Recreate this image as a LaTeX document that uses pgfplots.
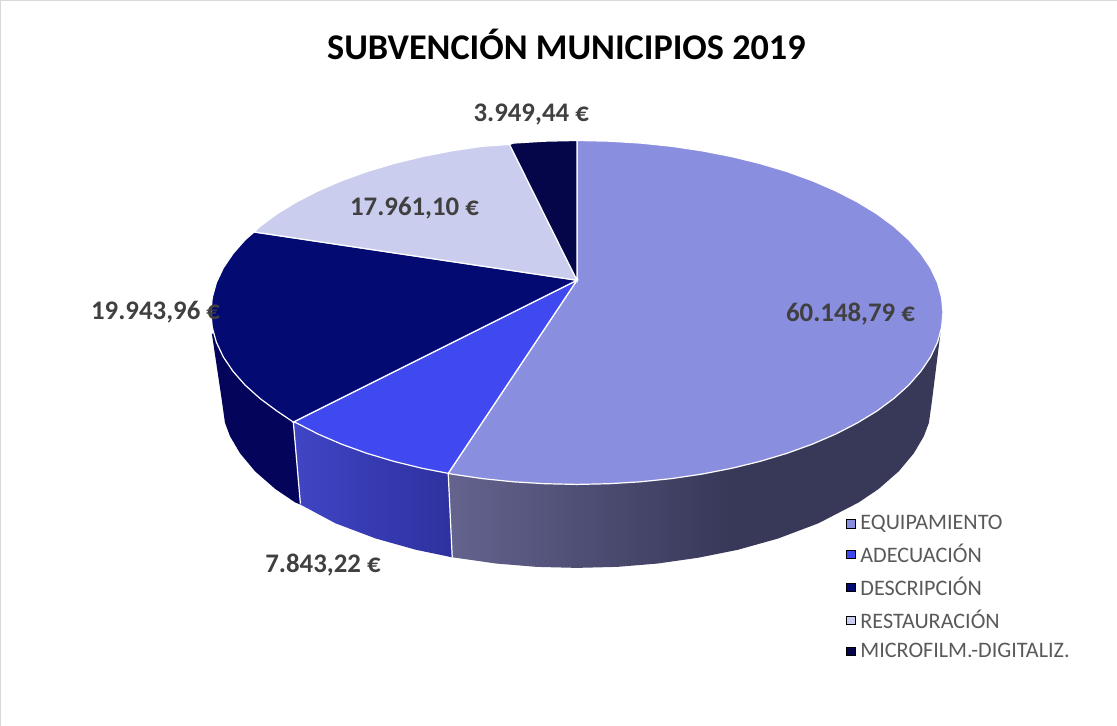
\documentclass[border=0pt]{standalone}
\usepackage{pgfplots}
\pgfplotsset{compat=1.18}
\usepackage{fontspec}
\setmainfont{Carlito}
\definecolor{cEq}{HTML}{8A8EDF}
\definecolor{cAd}{HTML}{4049F0}
\definecolor{cDe}{HTML}{030A72}
\definecolor{cRe}{HTML}{CBCDEE}
\definecolor{cMi}{HTML}{05064A}
\definecolor{cDeS}{HTML}{03045A}
\definecolor{cLab}{HTML}{404040}
\definecolor{cLeg}{HTML}{595959}
\definecolor{cBox}{HTML}{D9D9D9}
\pgfdeclarehorizontalshading{eqside}{100bp}{rgb(0bp)=(0.39,0.39,0.56); rgb(25bp)=(0.39,0.39,0.56); rgb(53.35bp)=(0.22,0.22,0.35); rgb(100bp)=(0.22,0.22,0.35)}
\pgfdeclarehorizontalshading{adside}{100bp}{rgb(0bp)=(0.25,0.27,0.77); rgb(25bp)=(0.25,0.27,0.77); rgb(75bp)=(0.18,0.19,0.62); rgb(100bp)=(0.18,0.19,0.62)}
\begin{document}
\begin{tikzpicture}
\begin{axis}[
  at={(0,0)}, anchor=south west,
  scale only axis, width=837.75pt, height=551.25pt,
  xmin=0, xmax=1117, ymin=0, ymax=735, y dir=reverse,
  axis lines=none, clip=true,
  legend cell align=left,
  legend image code/.code={\fill[#1] (0pt,-3pt) rectangle (6pt,3pt);},
  legend style={at={(axis cs:848,526)}, anchor=north west, draw=none, fill=none,
    inner sep=0pt, outer sep=0pt, font=\fontsize{16.5pt}{18pt}\selectfont\color{cLeg},
    row sep=9.3pt, nodes={inner xsep=4pt, inner ysep=0pt}},
]
% chart frame
\addplot[cBox, line width=1pt, forget plot] coordinates {(7,735) (7,14) (1117,14)};
% side faces
\addplot[fill=cDeS, draw=none, forget plot] coordinates {(298,433) (305,515) (300,513) (280,499.5) (260,482) (245,464) (235,447) (230,433.6) (227,412) (217,345) (300,345)} --cycle;
\addplot[shading=adside, draw=none, forget plot] coordinates {(298,433) (305,515) (340,533.7) (380,548.8) (420,560) (456,567.5) (452,484) (380,440)} --cycle;
\addplot[shading=eqside, draw=none, forget plot] coordinates {(452,484) (456,567.5) (460,568) (500,573.7) (540,577) (580,578) (620,577) (660,573.7) (700,568) (740,560) (780,548.8) (820,533.7) (860,513) (880,499.5) (900,482) (915,464) (925,447) (930,433.6) (933,412) (942,340) (800,400) (580,400)} --cycle;
% top faces
\addplot[fill=cEq, draw=white, line width=0.9pt, forget plot] coordinates {(580,292) (580,153) (611.7,153.7) (643.2,155.6) (674.2,158.8) (704.5,163.3) (733.8,169) (762,175.9) (788.8,183.9) (814,193) (837.4,203.1) (858.8,214.1) (878.2,225.9) (895.2,238.5) (909.9,251.7) (922,265.5) (931.6,279.7) (938.5,294.3) (942.6,309.1) (944,324) (942.6,338.9) (938.5,353.7) (931.6,368.3) (922,382.5) (909.9,396.3) (895.2,409.5) (878.2,422.1) (858.8,433.9) (837.4,444.9) (814,455) (788.8,464.1) (762,472.1) (733.8,479) (704.5,484.7) (674.2,489.2) (643.2,492.4) (611.7,494.3) (580,495) (548.3,494.3) (516.8,492.4) (485.8,489.2) (455.5,484.7) (452,484)} --cycle;
\addplot[fill=cAd, draw=white, line width=0.9pt, forget plot] coordinates {(580,292) (452,484) (426.2,479) (398,472.1) (371.2,464.1) (346,455) (322.6,444.9) (301.2,433.9) (298,433)} --cycle;
\addplot[fill=cDe, draw=white, line width=0.9pt, forget plot] coordinates {(580,292) (298,433) (281.8,422.1) (264.8,409.5) (250.1,396.3) (238,382.5) (228.4,368.3) (221.5,353.7) (217.4,338.9) (216,324) (217.4,309.1) (221.5,294.3) (228.4,279.7) (238,265.5) (250.1,251.7) (259,244)} --cycle;
\addplot[fill=cRe, draw=white, line width=0.9pt, forget plot] coordinates {(580,292) (259,244) (264.8,238.5) (281.8,225.9) (301.2,214.1) (322.6,203.1) (346,193) (371.2,183.9) (398,175.9) (426.2,169) (455.5,163.3) (485.8,158.8) (513,157)} --cycle;
\addplot[fill=cMi, draw=white, line width=0.9pt, forget plot] coordinates {(580,292) (513,157) (516.8,155.6) (548.3,153.7) (580,153)} --cycle;
% side separators
\addplot[white, line width=0.9pt, forget plot] coordinates {(452,484) (456,567.5)};
\addplot[white, line width=0.9pt, forget plot] coordinates {(298,433) (305,514)};
% legend
\addlegendimage{fill=cEq}\addlegendentry{EQUIPAMIENTO}
\addlegendimage{fill=cAd}\addlegendentry{ADECUACIÓN}
\addlegendimage{fill=cDe}\addlegendentry{DESCRIPCIÓN}
\addlegendimage{fill=cRe}\addlegendentry{RESTAURACIÓN}
\addlegendimage{fill=cMi}\addlegendentry{MICROFILM.-DIGITALIZ.}
% texts
\node[font=\fontsize{27pt}{30pt}\selectfont\bfseries, text=black] at (axis cs:569.5,58) {SUBVENCIÓN MUNICIPIOS 2019};
\node[font=\fontsize{20pt}{22pt}\selectfont\bfseries, text=cLab] at (axis cs:852,326) {60.148,79 €};
\node[font=\fontsize{20pt}{22pt}\selectfont\bfseries, text=cLab] at (axis cs:327.5,575) {7.843,22 €};
\node[font=\fontsize{20pt}{22pt}\selectfont\bfseries, text=cLab] at (axis cs:161,324) {19.943,96 €};
\node[font=\fontsize{20pt}{22pt}\selectfont\bfseries, text=cLab] at (axis cs:418.5,220) {17.961,10 €};
\node[font=\fontsize{20pt}{22pt}\selectfont\bfseries, text=cLab] at (axis cs:534.5,127) {3.949,44 €};
\end{axis}
\end{tikzpicture}
\end{document}
